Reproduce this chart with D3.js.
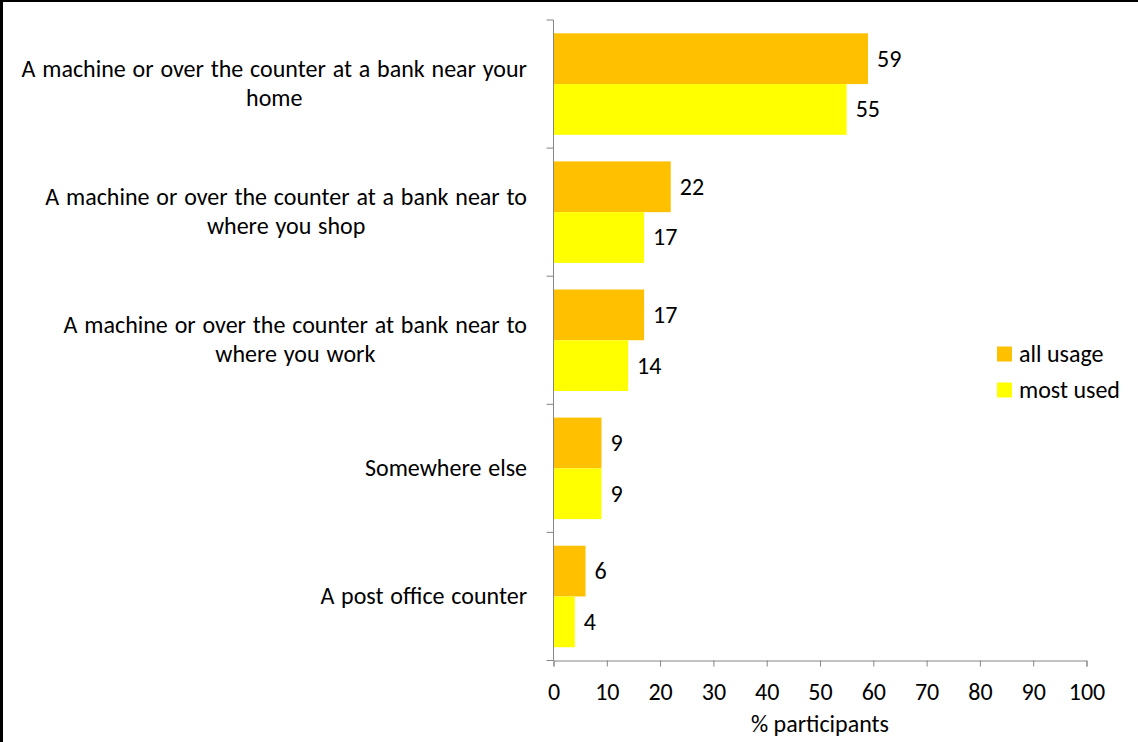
<!DOCTYPE html>
<html>
<head>
<meta charset="utf-8">
<script src="https://cdn.jsdelivr.net/npm/d3@7"></script>
<style>
  html, body { margin: 0; padding: 0; background: #fff; }
  svg { display: block; }
  text { font-family: Calibri, Carlito, Lato, sans-serif; fill: #000; }
</style>
</head>
<body>
<script>
// Where participants pay money in (% of participants)
const categories = [
  ["A machine or over the counter at a bank near your", "home"],
  ["A machine or over the counter at a bank near to", "where you shop"],
  ["A machine or over the counter at bank near to", "where you work"],
  ["Somewhere else"],
  ["A post office counter"]
];
const seriesNames = ["all usage", "most used"];
const allUsage = [59, 22, 17, 9, 6];
const mostUsed = [55, 17, 14, 9, 4];
const xTicks = [0, 10, 20, 30, 40, 50, 60, 70, 80, 90, 100];
const xTitle = "% participants";

const colors = ["#FFC000", "#FFFF00"];
const W = 1138, H = 742;
const fontSize = 24;

const svg = d3.select("body").append("svg").attr("width", W).attr("height", H);

// frame edges
svg.append("rect").attr("x", 0).attr("y", 0).attr("width", 3).attr("height", H).attr("fill", "#000");
svg.append("rect").attr("x", 0).attr("y", 0).attr("width", W).attr("height", 2).attr("fill", "#000");

const plotLeft = 553.5, plotRight = 1086.5, plotTop = 20, plotBottom = 660.5;

const x = d3.scaleLinear().domain([0, 100]).range([plotLeft, plotRight]);
const y = d3.scaleBand().domain(d3.range(categories.length)).range([plotTop, plotBottom]).padding(0);
const inner = d3.scaleBand().domain([0, 1]).range([0, y.bandwidth()]).paddingOuter(0.262).paddingInner(0);

const series = [allUsage, mostUsed];

// bars and value labels
series.forEach((vals, s) => {
  svg.append("g").selectAll("rect").data(vals).join("rect")
    .attr("x", x(0))
    .attr("y", (d, i) => y(i) + inner(s))
    .attr("width", d => x(d) - x(0))
    .attr("height", inner.bandwidth())
    .attr("fill", colors[s]);
  svg.append("g").selectAll("text").data(vals).join("text")
    .attr("x", d => x(d) + 9)
    .attr("y", (d, i) => y(i) + inner(s) + inner.bandwidth() / 2)
    .attr("dy", "0.33em")
    .style("font-size", fontSize + "px")
    .text(d => d);
});

// x axis
const xAxis = d3.axisBottom(x).tickValues(xTicks).tickSize(6).tickSizeOuter(6).tickFormat(d3.format("d"));
const gx = svg.append("g").attr("transform", `translate(0,${plotBottom})`).call(xAxis);
gx.selectAll("path, line").attr("stroke", "#868686");
gx.selectAll("text").style("font-size", fontSize + "px").attr("dy", "1.28em").attr("fill", "#000");

// y axis with tick marks at category boundaries
const gy = svg.append("g");
gy.append("line").attr("x1", x(0)).attr("x2", x(0)).attr("y1", plotTop).attr("y2", plotBottom).attr("stroke", "#868686");
gy.selectAll("line.tk").data(d3.range(categories.length + 1)).join("line")
  .attr("class", "tk")
  .attr("x1", x(0) - 7).attr("x2", x(0))
  .attr("y1", i => plotTop + i * y.step()).attr("y2", i => plotTop + i * y.step())
  .attr("stroke", "#868686");

// category labels: lines centred on each other, block right-aligned
const lineH = 29;
const labelRight = 527;
categories.forEach((lines, i) => {
  const cy = y(i) + y.bandwidth() / 2;
  const t = svg.append("text")
    .attr("text-anchor", "middle")
    .style("font-size", fontSize + "px")
    .style("word-spacing", "1.4px");
  const spans = lines.map((ln, k) => t.append("tspan")
    .attr("x", 0)
    .attr("y", cy + (k - (lines.length - 1) / 2) * lineH)
    .attr("dy", "0.3em")
    .text(ln));
  const w = d3.max(spans, sp => sp.node().getComputedTextLength());
  spans.forEach(sp => sp.attr("x", labelRight - w / 2));
});

// x axis title
svg.append("text")
  .attr("x", (plotLeft + plotRight) / 2).attr("y", 724).attr("dy", "0.33em")
  .attr("text-anchor", "middle").style("font-size", fontSize + "px")
  .text(xTitle);

// legend
const legend = svg.append("g");
seriesNames.forEach((name, s) => {
  const ly = 354 + s * 36;
  legend.append("rect").attr("x", 997).attr("y", ly - 7.5).attr("width", 15).attr("height", 15).attr("fill", colors[s]);
  legend.append("text").attr("x", 1019).attr("y", ly).attr("dy", "0.33em")
    .style("font-size", fontSize + "px").text(name);
});
</script>
</body>
</html>
